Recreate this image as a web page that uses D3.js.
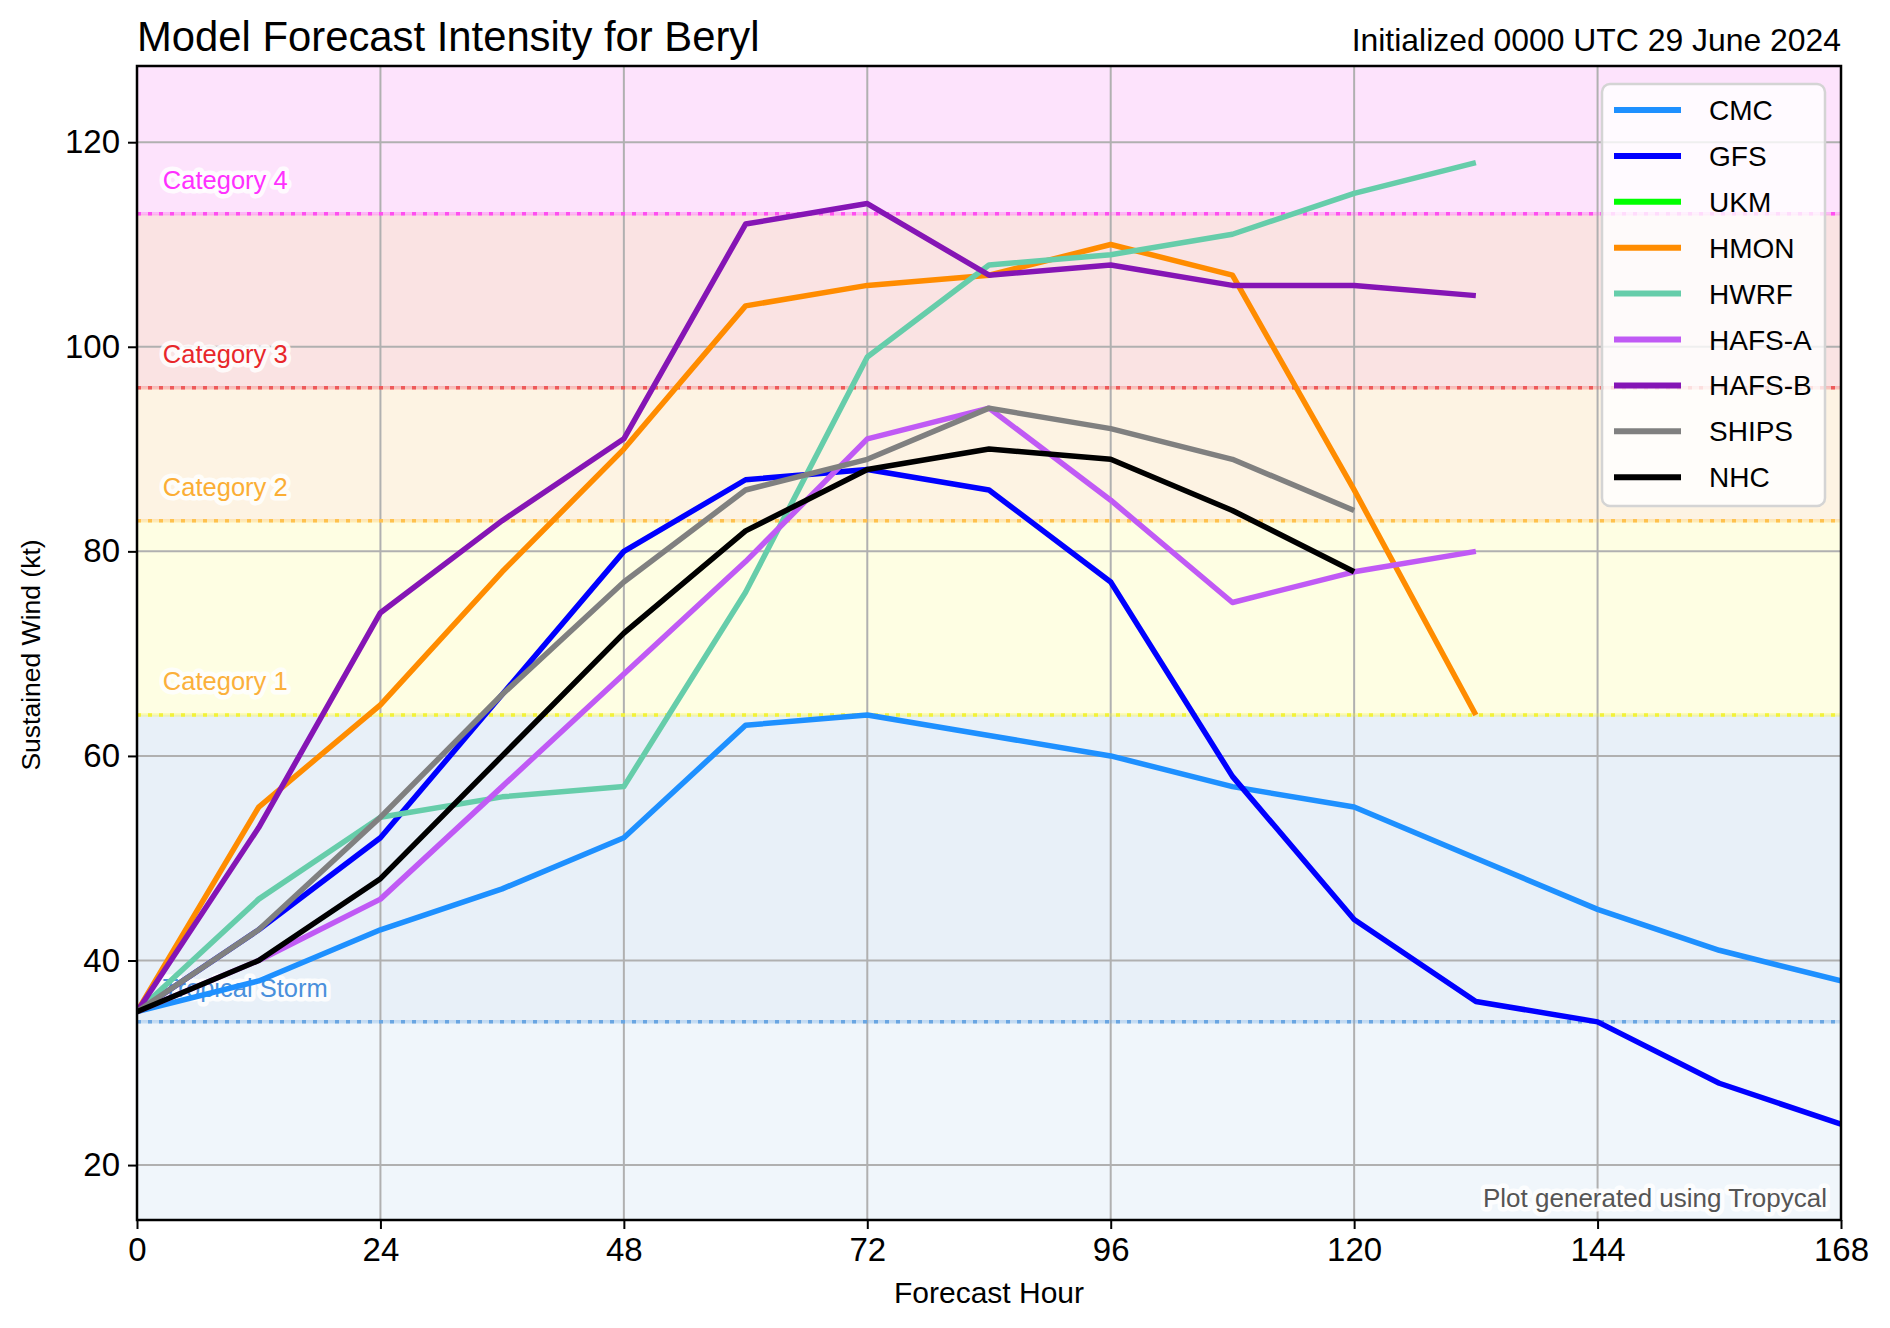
<!DOCTYPE html>
<html>
<head>
<meta charset="utf-8">
<script src="https://cdn.jsdelivr.net/npm/d3@7"></script>
<style>
  body { margin: 0; background: #fff; }
  text { font-family: "Liberation Sans", Arial, sans-serif; }
</style>
</head>
<body>
<div id="chart"></div>
<script>
// forecast hours and model intensities (kt)
const hours = [0, 12, 24, 36, 48, 60, 72, 84, 96, 108, 120, 132, 144, 156, 168];
const models = ["CMC", "GFS", "UKM", "HMON", "HWRF", "HAFS-A", "HAFS-B", "SHIPS", "NHC"];
const colors = ["#1e90ff", "#0000ff", "#00ff00", "#ff8c00", "#66cdaa", "#c05af5", "#8515b5", "#808080", "#000000"];

const cmc   = [35, 38, 43, 47, 52, 63, 64, 62, 60, 57, 55, 50, 45, 41, 38];
const gfs   = [35, 43, 52, 66, 80, 87, 88, 86, 77, 58, 44, 36, 34, 28, 24];
const ukm   = [];
const hmon  = [35, 55, 65, 78, 90, 104, 106, 107, 110, 107, 86, 64];
const hwrf  = [35, 46, 54, 56, 57, 76, 99, 108, 109, 111, 115, 118];
const hafsa = [35, 40, 46, 57, 68, 79, 91, 94, 85, 75, 78, 80];
const hafsb = [35, 53, 74, 83, 91, 112, 114, 107, 108, 106, 106, 105];
const ships = [35, 43, 54, 66, 77, 86, 89, 94, 92, 89, 84];
const nhc   = [35, 40, 48, 60, 72, 82, 88, 90, 89, 84, 78];
const seriesValues = [cmc, gfs, ukm, hmon, hwrf, hafsa, hafsb, ships, nhc];

// Saffir-Simpson thresholds
const catNames  = ["Tropical Storm", "Category 1", "Category 2", "Category 3", "Category 4"];
const catWinds  = [34, 64, 83, 96, 113];
const catLine   = ["#6aa6e2", "#f2f23a", "#ffc24e", "#ee5a5a", "#ff4ff0"];
const catText   = ["#4a90dc", "#fbb03b", "#fbae35", "#e8272a", "#ff30ff"];
const bandFill  = ["#f0f6fb", "#e8f0f8", "#fefee3", "#fdf3e3", "#fae3e3", "#fde3fc"];

const xTicks = [0, 24, 48, 72, 96, 120, 144, 168];
const yTicks = [20, 40, 60, 80, 100, 120];

const W = 1890, H = 1328;
const margin = {top: 66, right: 49, bottom: 108, left: 137};
const width = W - margin.left - margin.right,
      height = H - margin.top - margin.bottom;

const svg = d3.select("#chart").append("svg")
  .attr("width", W).attr("height", H);

const g = svg.append("g")
  .attr("transform", `translate(${margin.left},${margin.top})`);

const x = d3.scaleLinear().domain([0, 168]).range([0, width]);
const y = d3.scaleLinear().domain([14.63, 127.45]).range([height, 0]);

g.append("clipPath").attr("id", "clip")
  .append("rect").attr("width", width).attr("height", height);

const plot = g.append("g").attr("clip-path", "url(#clip)");

// intensity bands
const bandEdges = [y.domain()[0]].concat(catWinds, [y.domain()[1]]);
plot.selectAll("rect.band")
  .data(bandFill)
  .join("rect")
  .attr("class", "band")
  .attr("x", 0)
  .attr("width", width)
  .attr("y", (d, i) => y(bandEdges[i + 1]))
  .attr("height", (d, i) => y(bandEdges[i]) - y(bandEdges[i + 1]))
  .attr("fill", d => d);

// grid
plot.selectAll("line.vgrid").data(xTicks).join("line")
  .attr("x1", d => x(d)).attr("x2", d => x(d))
  .attr("y1", 0).attr("y2", height)
  .attr("stroke", "#b0b0b0").attr("stroke-width", 2);
plot.selectAll("line.hgrid").data(yTicks).join("line")
  .attr("x1", 0).attr("x2", width)
  .attr("y1", d => y(d)).attr("y2", d => y(d))
  .attr("stroke", "#b0b0b0").attr("stroke-width", 2);

// threshold lines
catWinds.forEach((w, i) => {
  plot.append("line")
    .attr("x1", 0).attr("x2", width)
    .attr("y1", y(w)).attr("y2", y(w))
    .attr("stroke", catLine[i]).attr("stroke-opacity", 0.3)
    .attr("stroke-width", 3.5);
  plot.append("line")
    .attr("x1", 0).attr("x2", width)
    .attr("y1", y(w)).attr("y2", y(w))
    .attr("stroke", catLine[i]).attr("stroke-width", 3.5)
    .attr("stroke-dasharray", "4,7");
});

// category labels with white halo
catWinds.forEach((w, i) => {
  plot.append("text")
    .attr("x", x(2.55))
    .attr("y", y(w) - 25)
    .attr("font-size", 25.5)
    .attr("fill", catText[i])
    .attr("stroke", "#fff").attr("stroke-opacity", 0.85)
    .attr("stroke-width", 9).attr("stroke-linejoin", "round")
    .attr("paint-order", "stroke")
    .text(catNames[i]);
});

// model lines
const line = d3.line()
  .x((d, i) => x(hours[i]))
  .y(d => y(d));

seriesValues.forEach((vals, k) => {
  if (!vals.length) return;
  plot.append("path")
    .datum(vals)
    .attr("fill", "none")
    .attr("stroke", colors[k])
    .attr("stroke-width", 5.5)
    .attr("stroke-linejoin", "round")
    .attr("d", line);
});

// credit text
plot.append("text")
  .attr("x", width - 14).attr("y", height - 13)
  .attr("text-anchor", "end")
  .attr("font-size", 26)
  .attr("fill", "#555")
  .attr("stroke", "#fff").attr("stroke-opacity", 0.85)
  .attr("stroke-width", 9).attr("stroke-linejoin", "round")
  .attr("paint-order", "stroke")
  .text("Plot generated using Tropycal");

// axes
const xAxis = g.append("g")
  .attr("transform", `translate(0,${height})`)
  .call(d3.axisBottom(x).tickValues(xTicks).tickSize(9).tickPadding(9));
const yAxis = g.append("g")
  .call(d3.axisLeft(y).tickValues(yTicks).tickSize(9).tickPadding(8));
[xAxis, yAxis].forEach(a => {
  a.select(".domain").remove();
  a.selectAll("line").attr("stroke", "#000").attr("stroke-width", 2);
  a.selectAll("text").attr("font-size", 33).attr("fill", "#000")
    .attr("font-family", "Liberation Sans, Arial, sans-serif");
});

// frame
g.append("rect")
  .attr("width", width).attr("height", height)
  .attr("fill", "none").attr("stroke", "#000").attr("stroke-width", 2.5);

// legend
const leg = g.append("g").attr("transform", `translate(${width - 239},18)`);
leg.append("rect")
  .attr("width", 223).attr("height", 422)
  .attr("rx", 8)
  .attr("fill", "#fff").attr("fill-opacity", 0.8)
  .attr("stroke", "#d4d4d4").attr("stroke-width", 2.5);
models.forEach((m, i) => {
  const cy = 26 + i * 45.9;
  leg.append("line")
    .attr("x1", 12).attr("x2", 79)
    .attr("y1", cy).attr("y2", cy)
    .attr("stroke", colors[i]).attr("stroke-width", 6);
  leg.append("text")
    .attr("x", 107).attr("y", cy + 10)
    .attr("font-size", 28)
    .text(m);
});

// titles and labels
svg.append("text")
  .attr("x", margin.left).attr("y", 51)
  .attr("font-size", 41.8)
  .text("Model Forecast Intensity for Beryl");
svg.append("text")
  .attr("x", margin.left + width).attr("y", 51)
  .attr("text-anchor", "end")
  .attr("font-size", 31.9)
  .text("Initialized 0000 UTC 29 June 2024");
svg.append("text")
  .attr("x", margin.left + width / 2).attr("y", 1303)
  .attr("text-anchor", "middle")
  .attr("font-size", 30)
  .text("Forecast Hour");
svg.append("text")
  .attr("transform", `translate(40,${margin.top + height / 2 + 12}) rotate(-90)`)
  .attr("text-anchor", "middle")
  .attr("font-size", 26.5)
  .text("Sustained Wind (kt)");
</script>
</body>
</html>
